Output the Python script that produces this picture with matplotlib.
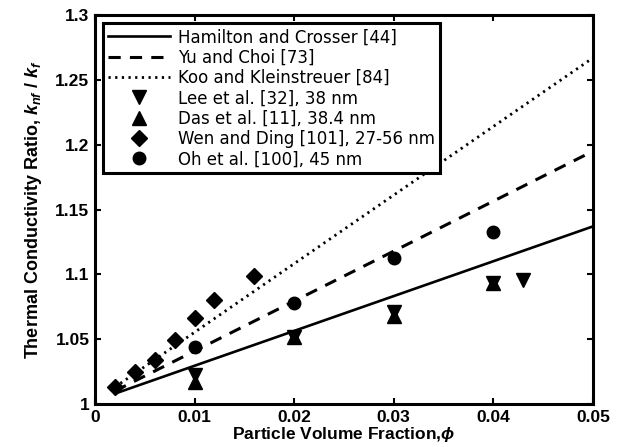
import matplotlib as mpl
mpl.use('Agg')

import matplotlib.pyplot as plt

plt.rcParams['font.family'] = ['Liberation Sans', 'DejaVu Sans']
plt.rcParams['mathtext.fontset'] = 'custom'
plt.rcParams['mathtext.rm'] = 'Liberation Sans:bold'
plt.rcParams['mathtext.it'] = 'Liberation Sans:italic:bold'

# model lines (nearly straight)
phi_model = [0.002, 0.05]
hamilton = [1.008, 1.137]
yu_choi = [1.010, 1.195]
koo = [1.013, 1.267]

# experiments
lee_phi = [0.01, 0.02, 0.03, 0.04, 0.043]
lee_k = [1.0225, 1.052, 1.0712, 1.093, 1.0956]

das_phi = [0.01, 0.02, 0.03, 0.04]
das_k = [1.0168, 1.052, 1.0682, 1.093]

wen_phi = [0.002, 0.004, 0.006, 0.008, 0.01, 0.012, 0.016]
wen_k = [1.013, 1.025, 1.034, 1.049, 1.066, 1.080, 1.099]

oh_phi = [0.01, 0.02, 0.03, 0.04]
oh_k = [1.044, 1.078, 1.113, 1.133]

fig = plt.figure(figsize=(6.24, 4.47), dpi=100)
ax = fig.add_axes([0.1522, 0.0962, 0.798, 0.870])

ax.plot(phi_model, hamilton, 'k-', lw=1.9, label='Hamilton and Crosser [44]')
ax.plot(phi_model, yu_choi, 'k--', lw=2.2, dashes=(4, 3), label='Yu and Choi [73]')
ax.plot(phi_model, koo, 'k:', lw=2.0, dashes=(0.8, 1.6), label='Koo and Kleinstreuer [84]')
ax.plot(lee_phi, lee_k, 'kv', ms=10.5, ls='none', label='Lee et al. [32], 38 nm')
ax.plot(das_phi, das_k, 'k^', ms=10.5, ls='none', label='Das et al. [11], 38.4 nm')
ax.plot(wen_phi, wen_k, 'kD', ms=8, ls='none', label='Wen and Ding [101], 27-56 nm')
ax.plot(oh_phi, oh_k, 'ko', ms=9, ls='none', label='Oh et al. [100], 45 nm')

ax.set_xlim(0, 0.05)
ax.set_ylim(1, 1.3)
ax.set_xticks([0, 0.01, 0.02, 0.03, 0.04, 0.05])
ax.set_xticklabels(['0', '0.01', '0.02', '0.03', '0.04', '0.05'])
ax.set_yticks([1, 1.05, 1.1, 1.15, 1.2, 1.25, 1.3])
ax.set_yticklabels(['1', '1.05', '1.1', '1.15', '1.2', '1.25', '1.3'])
ax.tick_params(direction='in', top=True, right=True, length=4, width=1.5,
               labelsize=12.5, pad=4)
for lab in ax.get_xticklabels() + ax.get_yticklabels():
    lab.set_fontweight('bold')
for s in ax.spines.values():
    s.set_linewidth(2.2)

ax.set_xlabel(r'Particle Volume Fraction,$\phi$', fontsize=12.5, fontweight='bold',
              labelpad=0)
ax.set_ylabel(r'Thermal Conductivity Ratio, $k_{nf}$ / $k_f$', fontsize=13,
              fontweight='bold', labelpad=8)

leg = ax.legend(loc='upper left', bbox_to_anchor=(0.016, 0.979),
                prop={'family': 'DejaVu Sans', 'size': 12.0},
                handlelength=3.7, handletextpad=0.5, labelspacing=0.14,
                borderpad=0.3, fancybox=False, framealpha=1, borderaxespad=0)
leg.get_frame().set_edgecolor('black')
leg.get_frame().set_linewidth(2.2)

plt.savefig('out.png', dpi=100)
